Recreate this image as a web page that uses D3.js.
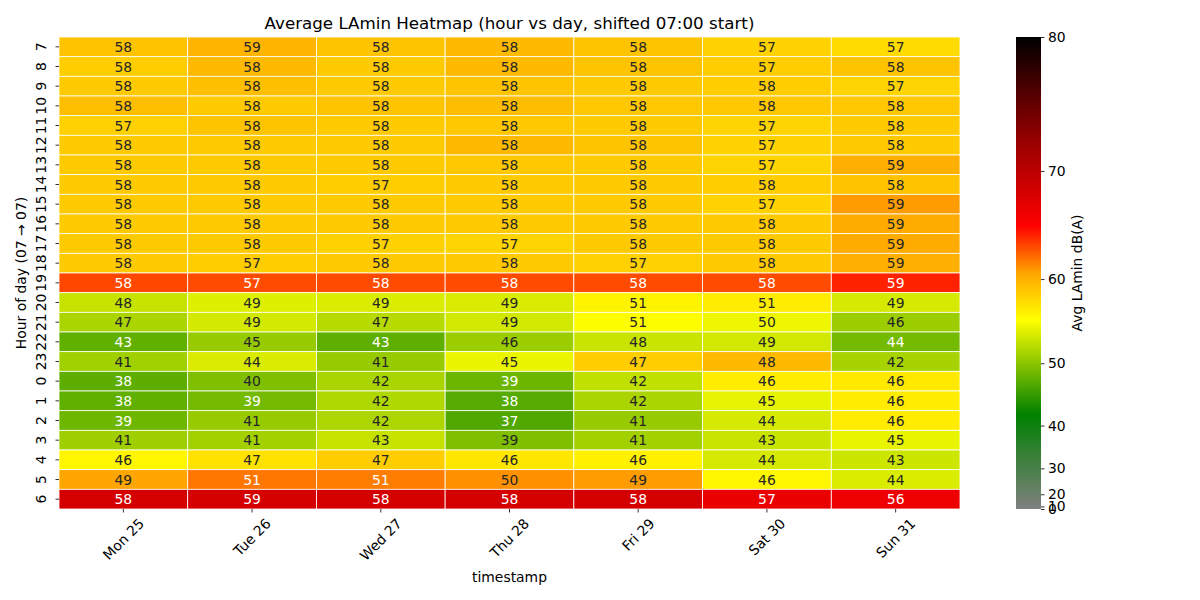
<!DOCTYPE html>
<html lang="en">
<head>
    <meta charset="UTF-8">
    <title>Average LAmin Heatmap</title>
    <script src="https://d3js.org/d3.v7.min.js"></script>
    <style>
      body{margin:0;background:#fff;}
      text{font-family:"DejaVu Sans",sans-serif;fill:#000;}
    </style>
</head>
<body>
  <script>
    // columns (days) and rows (hours, shifted to start at 07:00)
    var days = ['Mon 25','Tue 26','Wed 27','Thu 28','Fri 29','Sat 30','Sun 31'];
    var hours = [7,8,9,10,11,12,13,14,15,16,17,18,19,20,21,22,23,0,1,2,3,4,5,6];

    // numbers written in the cells
    var lamin = [
      [58,59,58,58,58,57,57],
      [58,58,58,58,58,57,58],
      [58,58,58,58,58,58,57],
      [58,58,58,58,58,58,58],
      [57,58,58,58,58,57,58],
      [58,58,58,58,58,57,58],
      [58,58,58,58,58,57,59],
      [58,58,57,58,58,58,58],
      [58,58,58,58,58,57,59],
      [58,58,58,58,58,58,59],
      [58,58,57,57,58,58,59],
      [58,57,58,58,57,58,59],
      [58,57,58,58,58,58,59],
      [48,49,49,49,51,51,49],
      [47,49,47,49,51,50,46],
      [43,45,43,46,48,49,44],
      [41,44,41,45,47,48,42],
      [38,40,42,39,42,46,46],
      [38,39,42,38,42,45,46],
      [39,41,42,37,41,44,46],
      [41,41,43,39,41,43,45],
      [46,47,47,46,46,44,43],
      [49,51,51,50,49,46,44],
      [58,59,58,58,58,57,56]
    ];

    // level (dB) that each cell's colour shows
    var shadeDb = [
      [59.0,59.8,58.9,59.5,58.9,58.1,57.6],
      [58.4,59.5,58.6,59.5,58.9,58.4,58.9],
      [58.6,59.2,58.6,58.9,58.6,58.4,58.0],
      [59.2,58.6,58.9,59.3,58.7,58.7,58.7],
      [58.2,58.9,58.6,58.7,58.6,58.0,58.6],
      [58.6,58.6,58.6,59.5,58.9,58.1,58.6],
      [58.6,58.6,58.6,58.7,58.6,58.0,60.1],
      [58.6,58.6,58.4,58.6,58.6,58.4,59.0],
      [58.6,58.6,58.6,58.6,58.6,58.1,60.9],
      [58.6,58.6,58.6,58.6,58.6,58.6,60.3],
      [58.6,58.6,58.2,58.0,58.6,58.6,60.3],
      [58.6,58.4,58.6,58.6,58.2,58.6,60.1],
      [63.3,63.2,63.2,63.2,63.2,63.2,64.3],
      [52.9,54.0,53.8,53.7,56.1,56.6,53.6],
      [51.6,53.5,52.2,53.4,55.4,54.7,50.8],
      [47.8,50.6,47.7,50.8,53.0,53.4,48.8],
      [51.1,53.7,50.6,54.6,58.4,59.5,51.4],
      [47.6,49.4,51.6,48.4,52.6,56.6,56.8],
      [47.8,48.8,51.8,47.2,51.6,54.4,56.6],
      [48.5,50.6,51.7,46.9,50.6,53.6,56.6],
      [51.0,51.2,52.9,49.4,51.2,53.0,54.5],
      [56.0,57.2,58.4,56.9,56.3,53.6,53.2],
      [60.6,62.0,61.8,61.2,60.9,56.0,53.8],
      [68.3,68.3,68.3,68.3,68.3,66.7,66.4]
    ];

    var cbTicks = [0,10,20,30,40,50,60,70,80];

    var width = 1200, height = 600;
    var margin = {top:37, left:59, right:960, bottom:509}; // heatmap box edges
    var svg = d3.select('body').append('svg').attr('width',width).attr('height',height);

    // power norm (gamma 2.5) and the custom colour map
    var norm = d3.scalePow().exponent(2.5).domain([0,80]).range([0,1]).clamp(true);
    var cmap = d3.scaleLinear()
                 .domain([0,0.2,0.4,0.5,0.6,0.8,1])
                 .range(['#808080','#008000','#ffff00','#ffa500','#ff0000','#8b0000','#000000']);
    function colorOf(v){ return cmap(norm(v)); }

    var x = d3.scaleBand().domain(days).range([margin.left, margin.right]);
    var y = d3.scaleBand().domain(hours).range([margin.top, margin.bottom]);

    // luminance rule for annotation colour (as seaborn does it)
    function lum(c){
      var rgb = d3.rgb(c);
      var f = function(u){ u = u/255; return u <= 0.03928 ? u/12.92 : Math.pow((u+0.055)/1.055, 2.4); };
      return 0.2126*f(rgb.r) + 0.7152*f(rgb.g) + 0.0722*f(rgb.b);
    }

    var cells = [];
    hours.forEach(function(h,i){
      days.forEach(function(d,j){
        cells.push({hour:h, day:d, label:lamin[i][j], level:shadeDb[i][j]});
      });
    });

    // cells
    svg.append('g').selectAll('rect')
       .data(cells).enter().append('rect')
       .attr('x', function(d){ return x(d.day); })
       .attr('y', function(d){ return y(d.hour); })
       .attr('width', x.bandwidth())
       .attr('height', y.bandwidth())
       .attr('fill', function(d){ return colorOf(d.level); })
       .attr('stroke','#fff')
       .attr('stroke-width',0.8);

    // annotations
    svg.append('g').selectAll('text')
       .data(cells).enter().append('text')
       .attr('x', function(d){ return x(d.day) + x.bandwidth()/2; })
       .attr('y', function(d){ return y(d.hour) + y.bandwidth()/2; })
       .attr('text-anchor','middle')
       .attr('dominant-baseline','central')
       .attr('font-size','13.9px')
       .style('fill', function(d){ return lum(colorOf(d.level)) > 0.408 ? '#262626' : '#ffffff'; })
       .text(function(d){ return d.label; });

    // x ticks
    var xg = svg.append('g');
    days.forEach(function(d){
      var cx = x(d) + x.bandwidth()/2;
      xg.append('line').attr('x1',cx).attr('x2',cx).attr('y1',margin.bottom).attr('y2',margin.bottom+3.5)
        .attr('stroke','#000').attr('stroke-width',0.8);
      var t = xg.append('text').attr('font-size','13.9px').attr('text-anchor','middle')
                .attr('dominant-baseline','central').text(d);
      var w = t.node().getComputedTextLength();
      var half = (w + 13.9) * Math.SQRT1_2 / 2;
      t.attr('transform','translate(' + cx + ',' + (margin.bottom + 7 + half) + ') rotate(-45)');
    });

    // y ticks
    var yg = svg.append('g');
    hours.forEach(function(h){
      var cy = y(h) + y.bandwidth()/2;
      yg.append('line').attr('x1',margin.left-3.5).attr('x2',margin.left).attr('y1',cy).attr('y2',cy)
        .attr('stroke','#000').attr('stroke-width',0.8);
      yg.append('text').attr('font-size','13.9px').attr('text-anchor','middle')
        .attr('transform','translate(' + (margin.left-13) + ',' + cy + ') rotate(-90)')
        .text(h);
    });

    // title and axis labels
    svg.append('text').attr('x',(margin.left+margin.right)/2).attr('y',29)
       .attr('text-anchor','middle').attr('font-size','16.7px')
       .text('Average LAmin Heatmap (hour vs day, shifted 07:00 start)');
    svg.append('text').attr('x',(margin.left+margin.right)/2).attr('y',582)
       .attr('text-anchor','middle').attr('font-size','13.9px').text('timestamp');
    svg.append('text').attr('font-size','13.9px').attr('text-anchor','middle')
       .attr('transform','translate(26,' + (margin.top+margin.bottom)/2 + ') rotate(-90)')
       .text('Hour of day (07 \u2192 07)');

    // colour bar
    var cb = {x:1016, w:25};
    var cbScale = d3.scalePow().exponent(2.5).domain([0,80]).range([margin.bottom, margin.top]);
    var grad = svg.append('defs').append('linearGradient').attr('id','cbgrad')
                  .attr('x1',0).attr('y1',1).attr('x2',0).attr('y2',0);
    d3.range(0,1.0001,0.01).forEach(function(t){
      grad.append('stop').attr('offset', t).attr('stop-color', cmap(t));
    });
    svg.append('rect').attr('x',cb.x).attr('y',margin.top).attr('width',cb.w)
       .attr('height',margin.bottom-margin.top).attr('fill','url(#cbgrad)');
    var cbAxis = d3.axisRight(cbScale).tickValues(cbTicks).tickSize(3.5).tickPadding(3.5);
    var cbg = svg.append('g').attr('transform','translate(' + (cb.x+cb.w) + ',0)').call(cbAxis);
    cbg.select('.domain').remove();
    cbg.selectAll('line').attr('stroke','#000').attr('stroke-width',0.8);
    cbg.selectAll('text').attr('font-size','13.9px').attr('font-family','DejaVu Sans').style('fill','#000');
    svg.append('text').attr('font-size','13.9px').attr('text-anchor','middle')
       .attr('transform','translate(1082,' + (margin.top+margin.bottom)/2 + ') rotate(-90)')
       .text('Avg LAmin dB(A)');
  </script>
</body>
</html>
